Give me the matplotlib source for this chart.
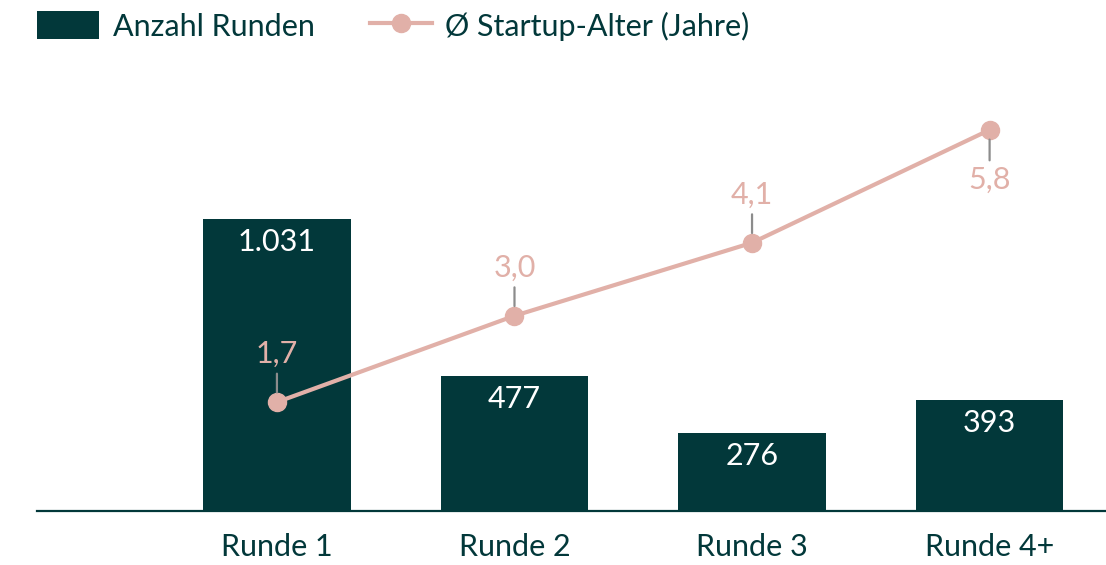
import matplotlib.pyplot as plt
import matplotlib as mpl

mpl.rc('font', family=['Lato', 'DejaVu Sans'], size=22)

# data
runden = ["Runde 1", "Runde 2", "Runde 3", "Runde 4+"]
anzahl = [1031, 477, 276, 393]
alter = [1.7, 3.0, 4.1, 5.8]

teal = '#02383a'
pink = '#e1b0a8'
grey = '#8c8c8c'

W, H = 1106, 565
fig = plt.figure(figsize=(W / 100, H / 100), dpi=100)
ax = fig.add_axes([37 / W, (H - 511) / H, 1 - 37 / W, (511 - 60) / H])

x = list(range(len(runden)))
bars = ax.bar(x, anzahl, width=0.62, color=teal, label="Anzahl Runden", zorder=2)
ax.set_xlim(-1.01, 3.49)
ax.set_ylim(0, 451 / 0.2832)
ax.set_xticks(x)
ax.set_xticklabels(runden, color=teal)
ax.tick_params(axis='x', length=0, pad=16)
ax.set_yticks([])
for s in ['top', 'right', 'left']:
    ax.spines[s].set_visible(False)
ax.spines['bottom'].set_color(teal)
ax.spines['bottom'].set_linewidth(1.6)

for xi, v in zip(x, anzahl):
    lbl = f"{v:,}".replace(",", ".")
    ax.annotate(lbl, xy=(xi, v), xytext=(0, -9), textcoords='offset pixels',
                ha='center', va='top', color='white', fontsize=22)

ax2 = ax.twinx()
ax2.set_ylim((515 - 511) / 66.4, (515 - 60) / 66.4)
ax2.axis('off')
line, = ax2.plot(x, alter, color=pink, lw=3, marker='o', markersize=13,
                 label="Ø Startup-Alter (Jahre)", zorder=3)

for i, (xi, v) in enumerate(zip(x, alter)):
    lbl = f"{v:.1f}".replace(".", ",")
    if i == len(x) - 1:
        off, va, rel = -36, 'top', (0.5, 1)
    else:
        off, va, rel = 34, 'bottom', (0.5, 0)
    ax2.annotate(lbl, xy=(xi, v), xytext=(0, off), textcoords='offset pixels',
                 ha='center', va=va, color=pink, fontsize=22,
                 arrowprops=dict(arrowstyle='-', color=grey, lw=1.6,
                                 shrinkA=2, shrinkB=7, relpos=rel))

fig.legend(handles=[bars, line], loc='upper left',
           bbox_to_anchor=(37 / W, 1 - 11 / H), ncol=2, frameon=False,
           borderpad=0, borderaxespad=0, handlelength=2.03, handleheight=1.05,
           handletextpad=0.45, columnspacing=1.8, labelcolor=teal, fontsize=22)

fig.savefig('out.png', dpi=100)
